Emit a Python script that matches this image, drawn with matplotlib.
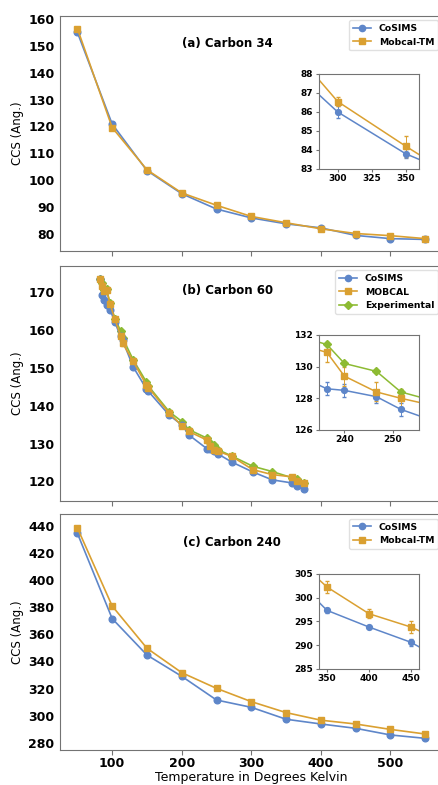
import numpy as np
import matplotlib
matplotlib.use("Agg")
import matplotlib.pyplot as plt
from matplotlib.lines import Line2D

# colours picked by eye from the figure
c_blue = '#5e86c9'
c_orange = '#daa031'
c_green = '#8dbb33'

# (a) Carbon 34
temp_a = [50, 100, 150, 200, 250, 300, 350, 400, 450, 500, 550]
cosims_a = [155.0, 120.9, 103.6, 95.0, 89.3, 86.0, 83.8, 82.3, 79.5, 78.3, 78.0]
cosims_a_err = [0.3, 0.3, 0.3, 0.3, 0.3, 0.3, 0.25, 0.3, 0.3, 0.3, 0.3]
mobcal_a = [156.4, 119.6, 103.9, 95.3, 90.7, 86.55, 84.2, 81.95, 80.2, 79.4, 78.3]
mobcal_a_err = [0.3, 0.3, 0.3, 0.3, 0.3, 0.25, 0.55, 0.3, 0.3, 0.3, 0.3]

# (b) Carbon 60
temp_b = [83, 86, 88, 92, 97, 104, 112, 115, 130, 149, 152, 182, 201, 210,
          236.4, 240, 246.6, 251.6, 272, 302, 330, 358, 365, 376]
cosims_b = [173.5, 169.3, 167.8, 166.5, 165.4, 162.0, 158.3, 157.3, 150.3, 144.5,
            143.8, 137.5, 134.8, 132.3, 128.6, 128.5, 128.1, 127.3, 125.1, 122.5,
            120.4, 119.6, 118.9, 118.1]
cosims_b_err = [0.4] * len(temp_b)
mobcal_b = [173.5, 171.5, 170.3, 170.5, 166.8, 162.8, 158.5, 156.5, 151.8, 145.5,
            144.8, 138.0, 134.6, 133.2, 130.9, 129.4, 128.4, 128.0, 126.6, 123.1,
            121.8, 121.2, 120.0, 119.5]
mobcal_b_err = [0.6] * len(temp_b)
exp_b = [173.6, 172.4, 170.5, 170.7, 167.0, 163.0, 159.8, 157.9, 152.2, 146.3,
         145.2, 138.4, 135.7, 133.7, 131.4, 130.2, 129.7, 128.4, 126.7, 124.0,
         122.6, 121.0, 120.5, 119.5]

# (c) Carbon 240
temp_c = [50, 100, 150, 200, 250, 300, 350, 400, 450, 500, 550]
cosims_c = [434.6, 371.6, 344.7, 329.0, 311.5, 306.1, 297.3, 293.8, 290.6, 285.7, 283.2]
cosims_c_err = [0.5, 0.5, 0.5, 0.5, 0.5, 0.5, 0.5, 0.3, 0.7, 0.5, 0.5]
mobcal_c = [438.5, 380.9, 349.7, 331.7, 320.1, 310.3, 302.2, 296.6, 293.8, 289.8, 286.4]
mobcal_c_err = [1.2, 1.2, 1.2, 1.2, 1.2, 1.2, 1.3, 1.0, 1.2, 1.2, 1.2]

bold = {'fontweight': 'bold'}


def style_axes(ax, size):
    for s in ax.spines.values():
        s.set_color('0.45')
        s.set_linewidth(0.8)
    ax.tick_params(colors='0.45', labelcolor='black', labelsize=size)
    for lab in ax.get_xticklabels() + ax.get_yticklabels():
        lab.set_fontweight('bold')


def draw(ax, x, y, err, color, marker, ms=4.8, lw=1.2):
    if err is None:
        ax.plot(x, y, color=color, marker=marker, ms=ms, lw=lw)
    else:
        ax.errorbar(x, y, yerr=err, color=color, marker=marker, ms=ms, lw=lw,
                    elinewidth=0.7, capsize=1.5, ecolor=color)
    # legend handle without the error bar
    return Line2D([], [], color=color, marker=marker, ms=4.5, lw=1.2)


fig = plt.figure(figsize=(4.39, 7.85), dpi=100)
left, width, height = 0.1367, 0.8715, 0.2994
ax_a = fig.add_axes([left, 0.6806, width, height])
ax_b = fig.add_axes([left, 0.3622, width, height], sharex=ax_a)
ax_c = fig.add_axes([left, 0.0446, width, 0.3002], sharex=ax_a)

# ---- panel a
h_a = [draw(ax_a, temp_a, cosims_a, cosims_a_err, c_blue, 'o'),
       draw(ax_a, temp_a, mobcal_a, mobcal_a_err, c_orange, 's')]
lab_a = ['CoSIMS', 'Mobcal-TM']
ax_a.set_ylim(73.8, 161.2)
ax_a.set_yticks(np.arange(80, 161, 10))
ax_a.text(0.4365, 0.88, '(a) Carbon 34', transform=ax_a.transAxes,
          ha='center', va='center', fontsize=8.5, **bold)

ins_a = ax_a.inset_axes([0.676, 0.348, 0.263, 0.404])
draw(ins_a, temp_a, cosims_a, cosims_a_err, c_blue, 'o', ms=4.2, lw=1.1)
draw(ins_a, temp_a, mobcal_a, mobcal_a_err, c_orange, 's', ms=4.2, lw=1.1)
ins_a.set_xlim(286, 360)
ins_a.set_ylim(83, 88)
ins_a.set_xticks([300, 325, 350])

# ---- panel b
h_b = [draw(ax_b, temp_b, cosims_b, cosims_b_err, c_blue, 'o'),
       draw(ax_b, temp_b, mobcal_b, mobcal_b_err, c_orange, 's'),
       draw(ax_b, temp_b, exp_b, None, c_green, 'D', ms=4.5)]
lab_b = ['CoSIMS', 'MOBCAL', 'Experimental']
ax_b.set_ylim(114.9, 177)
ax_b.set_yticks(np.arange(120, 171, 10))
ax_b.text(0.439, 0.894, '(b) Carbon 60', transform=ax_b.transAxes,
          ha='center', va='center', fontsize=8.5, **bold)

ins_b = ax_b.inset_axes([0.676, 0.301, 0.263, 0.404])
draw(ins_b, temp_b, cosims_b, cosims_b_err, c_blue, 'o', ms=4.2, lw=1.1)
draw(ins_b, temp_b, mobcal_b, mobcal_b_err, c_orange, 's', ms=4.2, lw=1.1)
draw(ins_b, temp_b, exp_b, None, c_green, 'D', ms=4.2, lw=1.1)
ins_b.set_xlim(234.7, 255.4)
ins_b.set_ylim(126, 132)
ins_b.set_xticks([240, 250])
ins_b.set_yticks([126, 128, 130, 132])

# ---- panel c
h_c = [draw(ax_c, temp_c, cosims_c, cosims_c_err, c_blue, 'o'),
       draw(ax_c, temp_c, mobcal_c, mobcal_c_err, c_orange, 's')]
lab_c = ['CoSIMS', 'Mobcal-TM']
ax_c.set_ylim(274.6, 448.6)
ax_c.set_yticks(np.arange(280, 441, 20))
ax_c.text(0.449, 0.88, '(c) Carbon 240', transform=ax_c.transAxes,
          ha='center', va='center', fontsize=8.5, **bold)

ins_c = ax_c.inset_axes([0.676, 0.344, 0.263, 0.404])
draw(ins_c, temp_c, cosims_c, cosims_c_err, c_blue, 'o', ms=4.2, lw=1.1)
draw(ins_c, temp_c, mobcal_c, mobcal_c_err, c_orange, 's', ms=4.2, lw=1.1)
ins_c.set_xlim(340, 460)
ins_c.set_ylim(285, 305)
ins_c.set_xticks([350, 400, 450])
ins_c.set_yticks([285, 290, 295, 300, 305])

ax_a.set_xlim(25, 575)
ax_a.set_xticks([100, 200, 300, 400, 500])

for ax, h, lab in ((ax_a, h_a, lab_a), (ax_b, h_b, lab_b), (ax_c, h_c, lab_c)):
    style_axes(ax, 9)
    ax.tick_params(axis='y', length=0, pad=4)
    ax.tick_params(axis='x', length=3.5, pad=1.5)
    ax.set_ylabel('CCS (Ang.)', fontsize=8.5, labelpad=3)
    leg = ax.legend(h, lab, loc='upper right', prop={'weight': 'bold', 'size': 6.7},
                    borderaxespad=0.5, handlelength=2.0, fancybox=True)
    leg.get_frame().set_edgecolor('0.85')
for ins in (ins_a, ins_b, ins_c):
    style_axes(ins, 6.5)
    ins.tick_params(length=2.5, pad=1.5)

plt.setp(ax_a.get_xticklabels(), visible=False)
plt.setp(ax_b.get_xticklabels(), visible=False)
ax_c.set_xlabel('Temperature in Degrees Kelvin', fontsize=9, labelpad=1)

fig.savefig('out.png', dpi=100)
